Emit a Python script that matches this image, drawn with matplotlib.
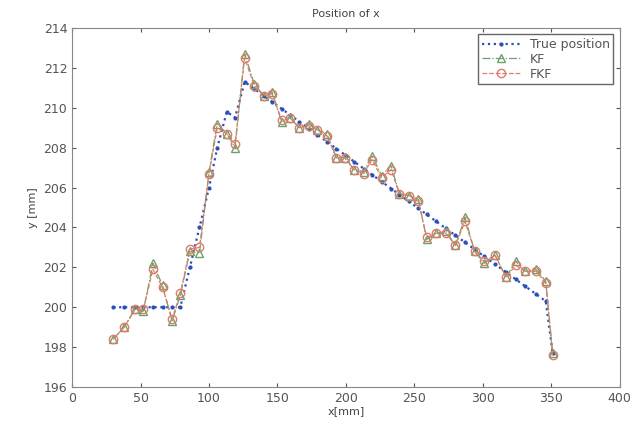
import numpy as np
import matplotlib.pyplot as plt

# x positions of the samples [mm]
x_pos = [30, 38, 46, 52, 59, 66, 73, 79, 86, 93, 100, 106, 113, 119, 126, 133,
         140, 146, 153, 159, 166, 173, 179, 186, 193, 199, 206, 213, 219, 226,
         233, 239, 246, 253, 259, 266, 273, 280, 287, 294, 301, 309, 317, 324,
         331, 339, 346, 351]

true_y = [200.0, 200.0, 200.0, 200.0, 200.0, 200.0, 200.0, 200.0, 202.0, 204.0,
          206.0, 208.0, 209.8, 209.5, 211.3, 210.95, 210.6, 210.3, 209.95, 209.65,
          209.3, 208.95, 208.65, 208.3, 207.95, 207.65, 207.3, 206.95, 206.65, 206.3,
          205.95, 205.65, 205.3, 204.95, 204.65, 204.3, 203.95, 203.6, 203.25, 202.9,
          202.55, 202.15, 201.75, 201.4, 201.05, 200.65, 200.3, 197.7]

kf_y = [198.4, 199.0, 199.9, 199.8, 202.2, 201.1, 199.3, 200.6, 202.8, 202.7,
        206.8, 209.2, 208.7, 208.0, 212.7, 211.2, 210.6, 210.8, 209.3, 209.5,
        209.0, 209.2, 208.9, 208.7, 207.5, 207.5, 206.9, 206.8, 207.6, 206.6,
        207.1, 205.7, 205.6, 205.4, 203.4, 203.7, 203.8, 203.1, 204.5, 202.8,
        202.2, 202.6, 201.5, 202.3, 201.8, 201.9, 201.3, 197.7]

fkf_y = [198.4, 199.0, 199.9, 199.9, 201.9, 201.0, 199.4, 200.7, 202.9, 203.0,
         206.7, 209.0, 208.7, 208.2, 212.5, 211.1, 210.6, 210.7, 209.4, 209.5,
         209.0, 209.1, 208.9, 208.6, 207.5, 207.5, 206.9, 206.7, 207.4, 206.5,
         206.9, 205.7, 205.6, 205.3, 203.5, 203.7, 203.7, 203.1, 204.3, 202.8,
         202.3, 202.6, 201.5, 202.1, 201.8, 201.8, 201.2, 197.6]

fig = plt.figure(figsize=(6.33, 4.3), dpi=100)
ax = fig.add_axes([0.114, 0.10, 0.865, 0.835])

ax.plot(x_pos, true_y, ':', color='#2a4fb8', marker='.', markersize=4,
        linewidth=1.6, label='True position')
ax.plot(x_pos, kf_y, '-.', color='#6aa36a', marker='^', markersize=6,
        markerfacecolor='none', linewidth=0.9, label='KF')
ax.plot(x_pos, fkf_y, '--', color='#e07a6a', marker='o', markersize=6,
        markerfacecolor='none', linewidth=0.9, label='FKF')

ax.set_xlim(0, 400)
ax.set_ylim(196, 214)
ax.set_xticks(np.arange(0, 401, 50))
ax.set_yticks(np.arange(196, 215, 2))

ax.tick_params(direction='in', top=True, right=True, labelsize=9,
               colors='#555555', length=3)
for s in ax.spines.values():
    s.set_color('#888888')

ax.set_title('Position of x', fontsize=8, color='#444444', pad=8)
ax.set_xlabel('x[mm]', fontsize=8, color='#444444', labelpad=1)
ax.set_ylabel('y [mm]', fontsize=8, color='#444444')

leg = ax.legend(loc='upper right', fontsize=9, fancybox=False, framealpha=1,
                edgecolor='#666666', handlelength=3.0, borderpad=0.3,
                labelspacing=0.15)
for t in leg.get_texts():
    t.set_color('#555555')

fig.savefig('out.png', dpi=100)
